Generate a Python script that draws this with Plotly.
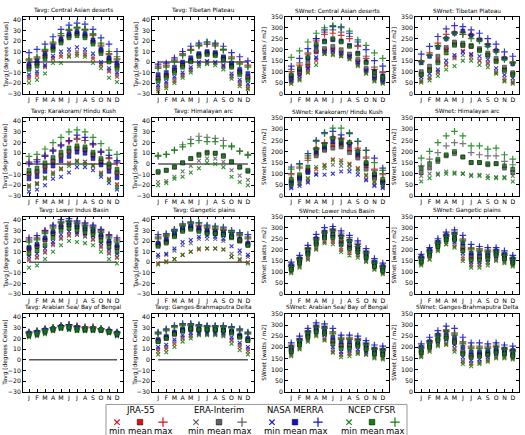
import plotly.graph_objects as go

MONTHS = [1, 2, 3, 4, 5, 6, 7, 8, 9, 10, 11, 12]
MONTH_LABELS = ["J", "F", "M", "A", "M", "J", "J", "A", "S", "O", "N", "D"]
TAVG_TICKS = [-30, -20, -10, 0, 10, 20, 30, 40]
SW_TICKS = [0, 50, 100, 150, 200, 250, 300, 350]

DATASETS = ["JRA-55", "ERA-Interim", "NASA MERRA", "NCEP CFSR"]
COLORS = ["#e01010", "#606060", "#1010d0", "#108010"]
STATS = ["min", "mean", "max"]

# each list: [min], [mean], [max]
# ---- Tavg: Central Asian deserts
cad_t_jra = [[-16,-13,-5,3,5,6,8,7,3,-3,-9,-14],[-5,-2,5,13,20,25,27,25,19,10,2,-4],[2,4,11,18,25,30,33,31,26,16,8,3]]
cad_t_era = [[-14,-11,-4,4,7,9,10,9,5,-2,-8,-12],[-4,-1,6,14,20,25,27,25,19,11,3,-3],[1,3,10,17,25,30,32,30,25,15,7,2]]
cad_t_mer = [[-12,-9,-3,6,10,12,14,12,8,0,-6,-10],[-2,1,8,15,22,27,29,27,21,12,4,-1],[9,12,17,24,31,35,37,36,31,23,17,10]]
cad_t_cfs = [[-20,-17,-11,-1,-1,5,6,5,-1,-6,-15,-19],[-7,-4,3,11,18,23,25,23,17,8,0,-6],[3,5,12,19,27,31,33,31,27,18,10,5]]
# ---- Tavg: Tibetan Plateau
tib_t_jra = [[-26,-23,-18,-13,-8,-2,0,-1,-4,-14,-21,-25],[-16,-13,-8,-3,1,6,8,7,3,-4,-10,-15],[-4,-3,2,8,12,16,17,16,12,5,0,-3]]
tib_t_era = [[-24,-21,-16,-12,-7,-2,-1,-1,-5,-13,-19,-23],[-15,-13,-8,-3,2,7,9,8,4,-3,-9,-14],[-5,-4,1,7,11,15,17,15,11,4,-1,-4]]
tib_t_mer = [[-22,-19,-14,-10,-5,0,1,0,-3,-11,-17,-21],[-12,-10,-5,0,4,8,10,9,5,-1,-7,-11],[-2,-1,4,10,15,18,19,18,15,9,5,1]]
tib_t_cfs = [[-28,-25,-20,-15,-10,-4,-2,-3,-7,-16,-23,-26],[-18,-15,-10,-5,0,5,7,6,2,-5,-12,-17],[-6,-5,0,6,11,16,19,17,12,3,-2,-5]]
# ---- SWnet: Central Asian deserts
cad_s_jra = [[50,65,100,150,180,180,170,160,130,95,60,50],[60,90,125,190,195,200,185,170,145,105,72,58],[100,130,180,240,270,275,265,250,215,160,110,95]]
cad_s_era = [[55,70,110,160,185,190,175,165,135,100,65,52],[70,100,140,195,205,215,200,180,155,115,80,65],[110,140,185,250,280,290,280,260,220,170,120,100]]
cad_s_mer = [[60,80,115,165,190,195,180,170,140,105,70,55],[80,110,160,215,240,245,240,220,185,145,100,80],[125,160,205,250,290,305,300,275,235,200,150,125]]
cad_s_cfs = [[45,60,95,130,180,175,170,155,125,90,55,45],[85,115,165,225,235,250,235,215,180,140,95,75],[165,195,235,275,300,310,305,285,245,220,185,160]]
# ---- SWnet: Tibetan Plateau
tib_s_jra = [[55,70,95,130,165,195,175,150,140,95,60,50],[90,110,150,200,225,220,215,200,175,150,110,90],[150,185,230,270,280,270,265,245,225,200,165,145]]
tib_s_era = [[60,75,100,135,160,175,165,150,135,100,70,55],[100,125,170,210,235,230,220,205,185,160,120,95],[145,175,220,255,275,280,270,250,225,195,160,140]]
tib_s_mer = [[75,90,110,150,175,190,180,170,155,115,85,70],[140,170,210,250,275,285,265,245,220,195,160,135],[180,215,260,295,310,305,290,275,250,225,190,170]]
tib_s_cfs = [[50,60,80,110,125,150,150,130,120,90,55,45],[85,105,140,185,220,220,215,195,175,145,105,85],[145,175,215,250,275,270,250,240,215,190,155,140]]
# ---- Tavg: Karakoram/ Hindu Kush
kar_t_jra = [[-20,-18,-13,-8,-4,1,3,2,-1,-8,-14,-19],[-10,-8,-3,2,7,11,14,13,8,2,-3,-9],[1,4,8,13,18,21,23,22,18,11,5,1]]
kar_t_era = [[-22,-19,-14,-9,-5,0,3,2,-2,-9,-15,-20],[-9,-7,-2,3,8,12,15,14,9,3,-3,-8],[2,4,8,13,18,22,24,22,18,12,6,2]]
kar_t_mer = [[-26,-24,-20,-14,-12,-8,-3,-3,-6,-12,-18,-24],[-14,-12,-7,-2,3,7,11,10,5,-1,-7,-13],[0,2,7,12,17,22,27,25,19,11,8,3]]
kar_t_cfs = [[-21,-19,-13,-10,-5,-2,2,0,-2,-10,-15,-22],[-6,-4,1,6,11,15,17,16,11,5,0,-5],[7,9,14,20,25,30,32,30,25,19,13,9]]
# ---- Tavg: Himalayan arc (ERA-Interim and CFSR only)
him_t_era = [[-17,-16,-12,-7,-2,3,5,5,2,-6,-11,-15],[-8,-6,-3,1,5,9,11,10,8,2,-3,-7],[7,9,13,18,23,26,25,24,22,16,12,9]]
him_t_cfs = [[-20,-18,-14,-12,-8,-4,1,0,-3,-12,-17,-20],[-7,-6,-3,1,5,8,10,10,7,2,-3,-6],[8,9,13,16,19,22,21,21,17,17,12,8]]
# ---- SWnet: Karakoram/ Hindu Kush
kar_s_jra = [[45,55,75,120,140,165,160,145,125,90,60,45],[65,85,115,190,210,230,230,210,180,135,85,65],[100,130,170,215,240,265,260,240,215,175,120,100]]
kar_s_era = [[40,55,65,100,125,140,135,125,110,75,50,40],[60,80,110,180,205,215,220,195,170,120,80,60],[95,125,160,210,235,260,255,235,205,170,115,95]]
kar_s_mer = [[35,45,60,95,95,100,110,110,95,70,45,35],[55,75,105,200,220,245,240,230,190,145,95,60],[130,145,190,250,285,290,275,280,245,205,170,125]]
kar_s_cfs = [[50,60,80,130,135,160,150,140,120,95,65,50],[75,95,130,210,230,260,250,240,200,150,100,75],[120,140,180,245,280,305,305,285,245,205,150,115]]
# ---- SWnet: Himalayan arc (ERA-Interim and CFSR only)
him_s_era = [[90,100,100,110,105,100,95,95,90,85,85,90],[105,125,155,180,190,175,150,150,140,145,125,105],[135,165,195,225,240,235,195,185,180,180,155,140]]
him_s_cfs = [[65,80,95,100,100,100,90,90,80,80,80,65],[125,145,165,185,200,175,150,150,145,145,135,120],[170,200,240,270,290,270,225,225,210,215,185,165]]
# ---- Tavg: Lower Indus Basin
lib_t_jra = [[3,5,10,17,23,26,26,25,22,15,9,5],[12,15,21,27,33,35,33,31,29,24,18,14],[21,23,29,34,38,39,38,36,34,30,25,21]]
lib_t_era = [[2,4,9,16,22,25,26,24,21,14,8,4],[13,15,21,27,33,35,33,31,29,24,18,14],[20,22,28,33,38,39,37,35,33,29,24,20]]
lib_t_mer = [[6,8,13,19,26,29,28,27,25,18,12,8],[14,17,23,29,35,37,35,33,31,26,20,16],[23,25,30,35,40,41,39,37,35,31,26,23]]
lib_t_cfs = [[-5,-3,3,10,16,20,19,18,16,10,3,-1],[8,11,16,23,30,32,30,28,26,20,14,10],[19,21,27,32,37,38,36,34,32,28,23,19]]
# ---- Tavg: Gangetic plains
gan_t_jra = [[-1,1,3,7,10,12,13,13,12,5,2,0],[17,20,26,31,33,31,29,28,27,24,20,17],[23,25,30,35,37,35,33,32,31,28,26,23]]
gan_t_era = [[5,7,11,16,18,22,22,22,20,8,8,5],[16,19,25,30,32,30,28,27,26,23,20,16],[22,24,29,34,36,34,32,31,30,28,25,22]]
gan_t_mer = [[7,8,13,19,21,24,25,24,22,15,11,7],[18,22,27,32,34,32,30,29,28,26,22,18],[26,27,31,36,38,37,35,34,33,30,28,26]]
gan_t_cfs = [[-2,0,3,7,10,13,13,13,12,5,3,-1],[15,18,24,29,31,29,27,27,26,24,21,16],[24,26,30,35,37,37,34,33,32,29,27,24]]
# ---- SWnet: Lower Indus Basin
lib_s_jra = [[100,125,160,205,235,235,200,185,175,150,115,95],[115,145,185,230,260,265,235,215,200,170,130,110],[130,160,205,250,280,290,265,245,225,190,145,125]]
lib_s_era = [[105,130,165,210,240,245,210,195,180,155,120,100],[120,150,190,235,265,270,245,225,205,175,135,115],[135,165,210,255,285,295,275,255,230,195,150,130]]
lib_s_mer = [[115,140,180,225,255,260,225,210,190,165,130,110],[130,160,200,250,280,285,260,240,215,185,145,125],[145,175,220,270,300,305,285,265,240,205,160,140]]
lib_s_cfs = [[95,120,155,200,230,225,190,175,165,145,110,90],[110,140,180,225,255,255,225,205,190,165,125,105],[125,155,200,245,275,285,260,240,215,185,140,120]]
# ---- SWnet: Gangetic plains
gan_s_jra = [[135,160,200,225,215,160,130,130,140,155,145,130],[150,180,220,250,250,205,165,165,170,180,165,145],[165,195,235,265,275,245,205,200,195,195,180,160]]
gan_s_era = [[140,170,205,235,225,170,135,135,145,160,150,135],[160,190,225,255,255,215,175,170,175,185,170,150],[170,200,240,270,280,250,210,205,200,200,185,165]]
gan_s_mer = [[150,180,215,245,235,185,145,145,155,170,160,145],[170,200,235,265,270,230,185,185,185,195,180,160],[180,210,250,280,290,265,225,215,210,210,195,175]]
gan_s_cfs = [[130,155,195,225,210,150,120,120,130,150,140,125],[145,175,215,245,245,195,155,155,160,175,160,140],[160,190,230,260,270,240,200,195,190,190,175,155]]
# ---- Tavg: Arabian Sea/ Bay of Bengal
ara_t_jra = [[22,23,25,27,29,29,27,27,27,27,25,23],[24,25,27,29,31,31,29,29,29,28,27,25],[26,27,29,30,32,33,32,31,31,29,28,26]]
ara_t_era = [[22,23,25,27,29,28,27,27,27,27,25,22],[24,25,27,29,30,30,29,28,28,28,26,24],[25,26,28,30,31,32,31,30,30,29,27,25]]
ara_t_mer = [[23,24,26,28,30,29,28,28,28,27,26,23],[25,26,28,29,31,31,30,29,29,28,27,25],[26,27,29,30,32,33,31,30,30,29,28,26]]
ara_t_cfs = [[21,22,24,27,29,28,27,27,27,27,25,22],[23,24,26,28,30,30,28,28,28,28,26,24],[25,26,28,30,31,32,30,30,30,29,27,25]]
# ---- Tavg: Ganges-Brahmaputra Delta
gbd_t_jra = [[8,10,15,20,22,24,24,24,23,18,12,8],[18,21,25,28,29,28,28,28,28,26,22,19],[25,28,31,33,33,32,31,31,31,30,28,25]]
gbd_t_era = [[10,12,17,21,23,24,24,24,24,19,14,10],[17,20,24,27,28,28,28,28,28,26,22,18],[24,27,30,32,32,31,31,31,31,30,27,24]]
gbd_t_mer = [[12,14,19,23,25,25,25,25,25,21,16,12],[19,22,26,29,30,29,29,29,28,27,23,20],[26,29,32,34,34,33,32,32,32,31,29,26]]
gbd_t_cfs = [[5,7,12,17,20,23,23,23,22,15,9,5],[17,20,24,27,29,28,28,28,27,25,21,18],[25,28,31,33,33,32,31,31,31,30,28,25]]
# ---- SWnet: Arabian Sea/ Bay of Bengal
ara_s_jra = [[165,195,230,255,235,180,165,170,175,170,155,150],[185,215,250,275,265,225,205,205,210,195,175,170],[205,235,270,295,290,265,240,240,235,215,195,190]]
ara_s_era = [[170,200,235,260,240,190,170,175,180,175,160,155],[190,220,255,280,270,230,210,210,215,200,180,175],[210,240,275,300,295,270,245,245,240,220,200,195]]
ara_s_mer = [[180,210,245,270,255,200,180,185,190,180,170,165],[200,230,265,290,285,245,225,225,225,210,190,185],[220,250,285,310,305,285,255,255,250,230,210,205]]
ara_s_cfs = [[160,190,225,250,230,175,155,160,170,165,150,145],[180,210,245,270,260,215,195,195,205,190,170,165],[200,230,265,290,285,260,235,235,230,210,190,185]]
# ---- SWnet: Ganges-Brahmaputra Delta
gbd_s_jra = [[160,185,210,215,190,135,125,130,140,155,155,150],[180,205,235,245,225,175,160,165,170,180,175,165],[200,225,255,275,260,220,200,200,200,205,195,185]]
gbd_s_era = [[165,190,215,220,195,140,130,135,145,160,160,155],[185,210,240,250,230,180,165,170,175,185,180,170],[205,230,260,280,265,225,205,205,205,210,200,190]]
gbd_s_mer = [[175,200,225,235,210,155,140,145,155,170,170,165],[200,225,255,265,245,200,180,180,185,195,190,185],[215,245,275,295,285,245,220,220,215,220,210,205]]
gbd_s_cfs = [[155,180,205,210,180,125,115,125,135,150,150,145],[175,200,230,240,220,170,155,160,165,175,170,160],[195,220,250,270,255,215,195,195,195,200,190,180]]

PANELS = [
    ("Tavg: Central Asian deserts", "T", [cad_t_jra, cad_t_era, cad_t_mer, cad_t_cfs]),
    ("Tavg: Tibetan Plateau", "T", [tib_t_jra, tib_t_era, tib_t_mer, tib_t_cfs]),
    ("SWnet: Central Asian deserts", "S", [cad_s_jra, cad_s_era, cad_s_mer, cad_s_cfs]),
    ("SWnet: Tibetan Plateau", "S", [tib_s_jra, tib_s_era, tib_s_mer, tib_s_cfs]),
    ("Tavg: Karakoram/ Hindu Kush", "T", [kar_t_jra, kar_t_era, kar_t_mer, kar_t_cfs]),
    ("Tavg: Himalayan arc", "T", [None, him_t_era, None, him_t_cfs]),
    ("SWnet: Karakoram/ Hindu Kush", "S", [kar_s_jra, kar_s_era, kar_s_mer, kar_s_cfs]),
    ("SWnet: Himalayan arc", "S", [None, him_s_era, None, him_s_cfs]),
    ("Tavg: Lower Indus Basin", "T", [lib_t_jra, lib_t_era, lib_t_mer, lib_t_cfs]),
    ("Tavg: Gangetic plains", "T", [gan_t_jra, gan_t_era, gan_t_mer, gan_t_cfs]),
    ("SWnet: Lower Indus Basin", "S", [lib_s_jra, lib_s_era, lib_s_mer, lib_s_cfs]),
    ("SWnet: Gangetic plains", "S", [gan_s_jra, gan_s_era, gan_s_mer, gan_s_cfs]),
    ("Tavg: Arabian Sea/ Bay of Bengal", "T", [ara_t_jra, ara_t_era, ara_t_mer, ara_t_cfs]),
    ("Tavg: Ganges-Brahmaputra Delta", "T", [gbd_t_jra, gbd_t_era, gbd_t_mer, gbd_t_cfs]),
    ("SWnet: Arabian Sea/ Bay of Bengal", "S", [ara_s_jra, ara_s_era, ara_s_mer, ara_s_cfs]),
    ("SWnet: Ganges-Brahmaputra Delta", "S", [gbd_s_jra, gbd_s_era, gbd_s_mer, gbd_s_cfs]),
]

W, H = 525, 435
COL_PX = [(23, 123), (152, 254), (285, 389), (415, 519)]
ROW_PX = [(13, 91), (116, 195), (216, 295), (315, 394)]
YLABEL_X = [6, 136, 264, 394]
FONT = "DejaVu Sans"


def px_x(v):
    return v / W


def px_y(v):
    return 1 - v / H


def marker_for(stat, color, size_scale=1.0):
    if stat == 0:
        return dict(symbol="x-thin", size=3.8 * size_scale, color=color,
                    line=dict(color=color, width=1.1))
    if stat == 1:
        return dict(symbol="square", size=4.0 * size_scale, color=color,
                    line=dict(color="black", width=0.5))
    return dict(symbol="cross-thin", size=4.8 * size_scale, color=color,
                line=dict(color=color, width=1.2))


fig = go.Figure()
layout = {}
annotations = []

LK = 17

for i, (title, kind, series) in enumerate(PANELS):
    r, c = divmod(i, 4)
    k = i + 1
    xa = "x" if k == 1 else f"x{k}"
    ya = "y" if k == 1 else f"y{k}"
    x0, x1 = COL_PX[c]
    y0, y1 = ROW_PX[r]
    if kind == "T":
        yrange, yticks, ylabel = [-30, 43], TAVG_TICKS, "Tavg [degrees Celsius]"
    else:
        yrange, yticks, ylabel = [0, 350], SW_TICKS, "SWnet [watts / m2]"
    axis_common = dict(showline=True, linecolor="black", linewidth=0.8, mirror="allticks",
                       ticks="inside", ticklen=3, tickwidth=0.6, tickcolor="black",
                       showgrid=False, zeroline=False,
                       tickfont=dict(family=FONT, size=6.2, color="black"))
    layout["xaxis" if k == 1 else f"xaxis{k}"] = dict(
        domain=[px_x(x0), px_x(x1)], anchor=ya, range=[0.25, 12.75],
        tickmode="array", tickvals=MONTHS, ticktext=MONTH_LABELS, **axis_common)
    layout["yaxis" if k == 1 else f"yaxis{k}"] = dict(
        domain=[px_y(y1), px_y(y0)], anchor=xa, range=yrange,
        tickmode="array", tickvals=yticks, **axis_common)

    if kind == "T":
        fig.add_trace(go.Scatter(x=[MONTHS[0], MONTHS[-1]], y=[0, 0], mode="lines",
                                 line=dict(color="#555555", width=1.5),
                                 xaxis=xa, yaxis=ya, showlegend=False, hoverinfo="skip"))
    for d, data in enumerate(series):
        if data is None:
            continue
        for s in range(3):
            fig.add_trace(go.Scatter(x=MONTHS, y=data[s], mode="markers",
                                     marker=marker_for(s, COLORS[d]), opacity=0.85,
                                     xaxis=xa, yaxis=ya, showlegend=False,
                                     name=f"{DATASETS[d]} {STATS[s]}"))

    annotations.append(dict(text=title, x=px_x((x0 + x1) / 2), y=px_y(y0 - 1),
                            xref="paper", yref="paper", xanchor="center", yanchor="bottom",
                            showarrow=False, font=dict(family=FONT, size=5.8, color="black")))
    annotations.append(dict(text=ylabel, x=px_x(YLABEL_X[c]), y=px_y((y0 + y1) / 2),
                            xref="paper", yref="paper", xanchor="center", yanchor="middle",
                            textangle=-90, showarrow=False,
                            font=dict(family=FONT, size=5.8, color="black")))

layout[f"xaxis{LK}"] = dict(domain=[0, 1], range=[0, W], visible=False, fixedrange=True)
layout[f"yaxis{LK}"] = dict(domain=[0, 1], range=[H, 0], visible=False, fixedrange=True)
LEG_BOX = (106, 407, 407, 442)
GROUP_CX = [140, 219, 295, 372]
KEY_DX = 23
KEY_Y, TITLE_Y, LABEL_Y = 425, 413, 434

shapes = [dict(type="rect", xref="paper", yref="paper", x0=px_x(LEG_BOX[0]), y0=px_y(LEG_BOX[3]),
               x1=px_x(LEG_BOX[2]), y1=px_y(LEG_BOX[1]), line=dict(color="#999999", width=1),
               fillcolor="rgba(0,0,0,0)", layer="below")]
for d, name in enumerate(DATASETS):
    cx = GROUP_CX[d]
    annotations.append(dict(text=name, x=cx, y=TITLE_Y, xref=f"x{LK}", yref=f"y{LK}",
                            xanchor="center", yanchor="middle", showarrow=False,
                            font=dict(family=FONT, size=8.5, color="black")))
    for s, st in enumerate(STATS):
        kx = cx + (s - 1) * KEY_DX
        fig.add_trace(go.Scatter(x=[kx], y=[KEY_Y], mode="markers",
                                 marker=marker_for(s, COLORS[d], 1.4),
                                 xaxis=f"x{LK}", yaxis=f"y{LK}", showlegend=False,
                                 hoverinfo="skip"))
        annotations.append(dict(text=st, x=kx, y=LABEL_Y, xref=f"x{LK}", yref=f"y{LK}",
                                xanchor="center", yanchor="middle", showarrow=False,
                                font=dict(family=FONT, size=8.5, color="black")))

fig.update_layout(width=W, height=H, margin=dict(l=0, r=0, t=0, b=0),
                  paper_bgcolor="white", plot_bgcolor="rgba(0,0,0,0)",
                  annotations=annotations, shapes=shapes, showlegend=False, **layout)
fig.write_html("out.html")
